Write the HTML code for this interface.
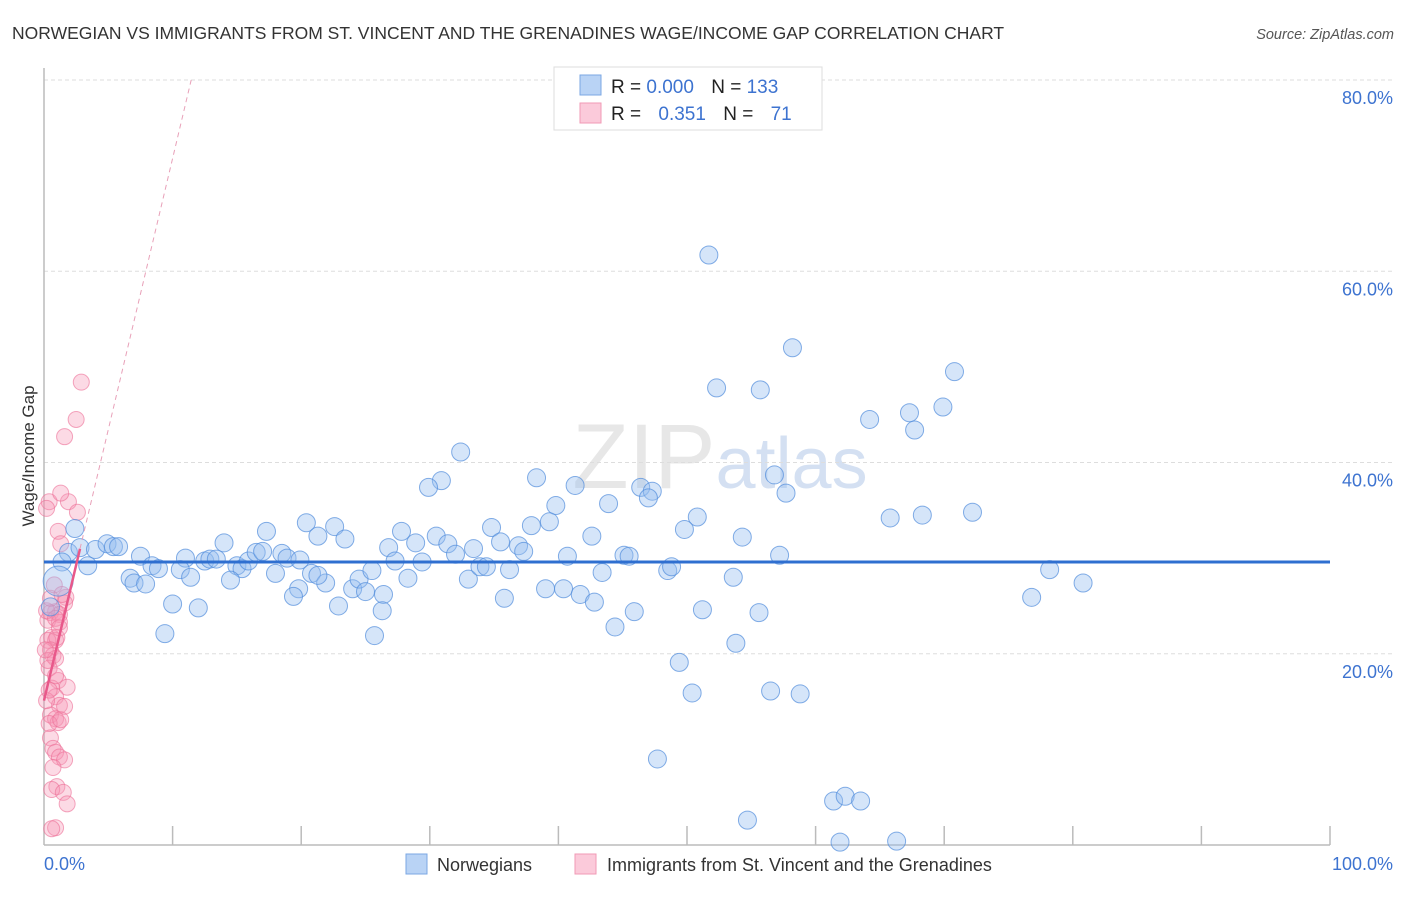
<!DOCTYPE html>
<html><head><meta charset="utf-8"><style>
body{margin:0;background:#fff;font-family:"Liberation Sans",sans-serif;}
svg text{font-family:"Liberation Sans",sans-serif;}
</style></head><body>
<svg id="chart" width="1406" height="892" xmlns="http://www.w3.org/2000/svg">
<text x="12" y="39" font-size="17.5" fill="#333">NORWEGIAN VS IMMIGRANTS FROM ST. VINCENT AND THE GRENADINES WAGE/INCOME GAP CORRELATION CHART</text>
<text x="1394" y="39" font-size="14.5" fill="#555" font-style="italic" text-anchor="end">Source: ZipAtlas.com</text>
<text x="720" y="488" font-size="92" text-anchor="middle" fill="#d8d8d8" opacity="0.6" font-family="Liberation Serif"><tspan>ZIP</tspan><tspan fill="#b8cdea" font-family="Liberation Sans" font-size="72">atlas</tspan></text>
<g id="grid"></g>
<g id="axes"></g>
<g id="pink"></g>
<g id="blue"></g>
<g id="trend"></g>
<text transform="translate(34,456) rotate(-90)" font-size="17" fill="#333" text-anchor="middle">Wage/Income Gap</text>
<g>
<rect x="554" y="67" width="268" height="63" fill="#fff" stroke="#ddd"/>
<rect x="580" y="75" width="21" height="20" fill="#b9d3f5" stroke="#7ba7e3"/>
<rect x="580" y="103" width="21" height="20" fill="#fbcada" stroke="#f09ab5"/>
<text x="611" y="93" font-size="19" fill="#222">R = <tspan fill="#3d73d0">0.000</tspan>  <tspan dx="12">N = </tspan><tspan fill="#3d73d0">133</tspan></text>
<text x="611" y="120" font-size="19" fill="#222">R = <tspan fill="#3d73d0" dx="12">0.351</tspan>  <tspan dx="12">N = </tspan><tspan fill="#3d73d0" dx="12">71</tspan></text>
</g>
<g>
<rect x="406" y="854" width="21" height="20" fill="#b9d3f5" stroke="#7ba7e3"/>
<text x="437" y="871" font-size="18" fill="#333">Norwegians</text>
<rect x="575" y="854" width="21" height="20" fill="#fbcada" stroke="#f09ab5"/>
<text x="607" y="871" font-size="18" fill="#333">Immigrants from St. Vincent and the Grenadines</text>
</g>
</svg>
<script>
const blueX=[51.7,58.2,52.3,55.7,70.8,67.3,69.9,64.2,67.7,32.4,30.9,29.9,38.3,41.3,46.4,47.3,47.0,56.8,57.7,43.9,39.8,39.3,37.9,34.8,50.8,49.8,65.8,68.3,72.2,54.3,20.4,22.6,17.3,21.3,23.4,27.8,30.5,31.4,26.8,28.9,33.4,36.9,35.5,37.3,32.0,40.7,42.6,45.1,45.5,57.2,14.0,2.4,1.9,2.8,4.0,4.9,5.4,5.8,7.5,8.4,8.9,11.0,10.6,12.5,12.9,13.4,15.0,15.4,15.9,16.5,17.0,18.5,18.9,19.9,18.0,20.8,21.9,19.8,19.4,24.0,24.5,25.0,25.5,26.4,28.3,27.3,29.4,33.0,33.9,34.4,36.2,35.8,39.0,40.4,41.7,42.8,43.4,44.4,45.9,48.5,48.8,53.6,51.2,55.6,53.8,49.4,50.4,56.5,58.8,47.7,54.7,61.4,62.3,63.5,61.9,66.3,76.8,78.2,80.8,6.7,7.0,7.9,10.0,12.0,14.5,11.4,9.4,25.7,26.3,22.9,21.3,1.4,1.1,3.4,0.5];
const blueY=[61.7,52.0,47.8,47.6,49.5,45.2,45.8,44.5,43.4,41.1,38.1,37.4,38.4,37.6,37.4,37.0,36.3,38.7,36.8,35.7,35.5,33.8,33.4,33.2,34.3,33.0,34.2,34.5,34.8,32.2,33.7,33.3,32.8,32.3,32.0,32.8,32.3,31.5,31.1,31.6,31.0,31.3,31.7,30.7,30.4,30.2,32.3,30.3,30.2,30.3,31.6,33.1,30.6,31.1,30.9,31.5,31.2,31.2,30.2,29.2,28.9,30.0,28.8,29.7,29.9,29.9,29.2,28.9,29.7,30.6,30.7,30.5,30.0,29.8,28.4,28.4,27.4,26.8,26.0,26.8,27.8,26.5,28.7,26.2,27.9,29.7,29.6,27.8,29.1,29.1,28.8,25.8,26.8,26.8,26.2,25.4,28.5,22.8,24.4,28.7,29.1,28.0,24.6,24.3,21.1,19.1,15.9,16.1,15.8,9.0,2.6,4.6,5.1,4.6,0.3,0.4,25.9,28.8,27.4,27.9,27.4,27.3,25.2,24.8,27.7,28.0,22.1,21.9,24.5,25.0,28.2,29.6,27.6,29.2,24.9];
const pinkX=[2.9,2.5,1.6,0.4,1.9,1.3,2.6,1.1,1.3,1.7,1.6,0.9,0.5,1.2,0.3,1.2,0.6,0.9,0.3,1.0,0.5,0.7,0.9,0.4,1.1,1.8,0.6,0.9,1.2,1.6,0.5,0.9,1.1,0.4,1.3,0.5,0.7,0.9,1.2,1.6,0.7,1.0,0.6,1.5,1.8,0.9,0.6,0.2,0.3,0.2,0.4,0.9,0.1,0.5,0.8,1.4,0.9,1.2,0.2];
const pinkY=[48.4,44.5,42.7,35.9,35.9,36.8,34.8,32.8,31.5,25.9,25.3,24.4,24.3,24.1,23.5,23.3,21.7,21.4,21.4,21.7,20.4,19.8,19.5,18.5,17.2,16.5,16.4,15.5,14.6,14.5,13.6,13.2,12.8,12.7,13.1,11.2,10.1,9.7,9.2,8.9,8.1,6.1,5.8,5.5,4.3,1.8,1.7,24.5,19.3,15.1,16.2,17.7,20.4,25.8,27.2,26.2,23.7,22.7,35.2];
const yTicks=[20,40,60,80];
const xTickLabels=["0.0%","100.0%"];
const blueMean=[29.6];
const pinkTrend=[15.1,5.67];
const NS="http://www.w3.org/2000/svg";
const X0=44,X1=1330,Y0=845,Y80=80;
const sx=v=>X0+(X1-X0)*v/100;
const sy=v=>Y0-(Y0-Y80)*v/80;
function mk(tag,attrs,parent){const e=document.createElementNS(NS,tag);for(const k in attrs)e.setAttribute(k,attrs[k]);parent.appendChild(e);return e;}
const grid=document.getElementById('grid'),axes=document.getElementById('axes');
yTicks.forEach(t=>{
 const l=mk('line',{x1:X0,x2:1394,y1:sy(t),y2:sy(t),stroke:'#ddd','stroke-dasharray':'4,3'},grid);
 
 
 const tx=mk('text',{x:1393,y:sy(t)+24,'font-size':18,fill:'#3d73d0','text-anchor':'end'},axes);
 tx.textContent=t.toFixed(1)+'%';
 
 
});
const ax=mk('line',{x1:X0,x2:X0,y1:68,y2:Y0,stroke:'#bbb','stroke-width':1.5},axes);


const bx=mk('line',{x1:X0,x2:X1,y1:Y0,y2:Y0,stroke:'#bbb','stroke-width':1.5},axes);


for(let i=1;i<=10;i++){
 const tk=mk('line',{x1:sx(i*10),x2:sx(i*10),y1:826,y2:Y0,stroke:'#bbb','stroke-width':1.5},axes);
 
 
}
const l0=mk('text',{x:44,y:870,'font-size':18,fill:'#3d73d0'},axes);l0.textContent=xTickLabels[0];


const l1=mk('text',{x:1393,y:870,'font-size':18,fill:'#3d73d0','text-anchor':'end'},axes);l1.textContent=xTickLabels[1];


const pg=document.getElementById('pink');
pinkX.forEach((x,i)=>{
 const c=mk('circle',{cx:sx(x),cy:sy(pinkY[i]),r:8,fill:'rgba(246,150,180,0.35)',stroke:'rgba(236,110,150,0.6)'},pg);
 
 
});
const bg=document.getElementById('blue');
blueX.forEach((x,i)=>{
 const big=(x<1.2&&blueY[i]>27&&blueY[i]<28.5);
 const c=mk('circle',{cx:sx(x),cy:sy(blueY[i]),r:big?15:9,fill:'rgba(150,190,240,0.4)',stroke:'rgba(80,140,220,0.7)'},bg);
 
 
});
const tg=document.getElementById('trend');
const bl=mk('line',{x1:sx(0),x2:sx(100),y1:sy(blueMean[0]),y2:sy(blueMean[0]),stroke:'#2f6fd0','stroke-width':3},tg);


const pf=x=>pinkTrend[0]+pinkTrend[1]*x;
const ps=mk('line',{x1:sx(0),y1:sy(pf(0)),x2:sx(2.8),y2:sy(pf(2.8)),stroke:'#e8588a','stroke-width':2.5},tg);


const xe=(80-pinkTrend[0])/pinkTrend[1];
const pd=mk('line',{x1:sx(2.8),y1:sy(pf(2.8)),x2:sx(xe),y2:sy(80),stroke:'#e8a0b8','stroke-width':1,'stroke-dasharray':'5,4'},tg);


</script>
</body></html>
